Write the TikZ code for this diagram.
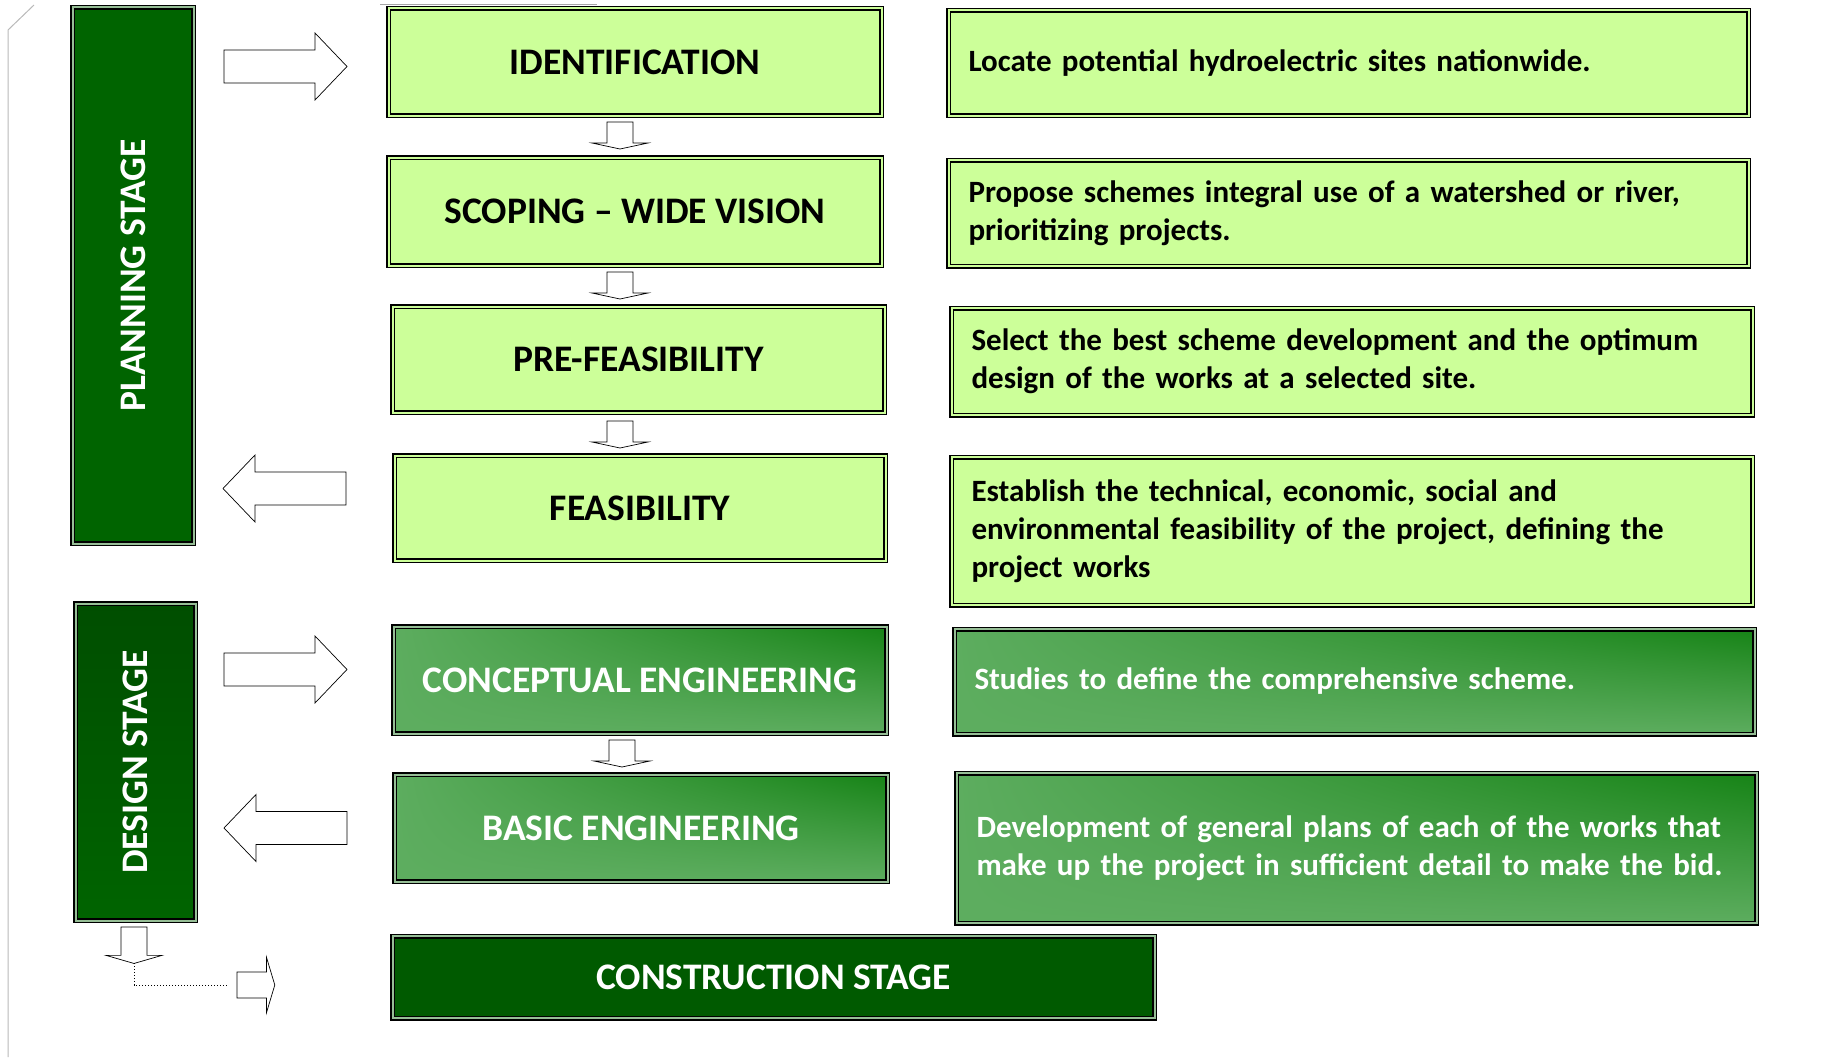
\documentclass[tikz,border=0pt]{standalone}
\usepackage{fontspec}
\setmainfont{Carlito}
\usetikzlibrary{positioning,shadings}
\definecolor{paleg}{HTML}{CCFF99}
\definecolor{deepg}{HTML}{006400}
\definecolor{shadeg}{HTML}{004E00}
\definecolor{constg}{HTML}{005A00}
\definecolor{midg}{HTML}{5DAD5F}
\definecolor{richg}{HTML}{168316}
\definecolor{gapg}{HTML}{96BE96}

\begin{document}
\begin{tikzpicture}[x=1pt,y=-1pt,
	frame/.style={draw,line width=1.5pt,double distance=2pt,inner sep=0pt},
	bigfont/.style={font=\fontsize{37.5}{45}\selectfont\bfseries},
	smallfont/.style={font=\fontsize{31}{38}\selectfont\bfseries},
	titlebox/.style={frame,fill=paleg,double=paleg,bigfont},
	descbox/.style={frame,fill=paleg,double=paleg,align=left,inner xsep=20pt,smallfont},
	engbox/.style={frame,double=gapg,text=white,upper left=midg,lower left=midg,lower right=midg,upper right=richg},
	stagebar/.style={frame,double=gapg,rotate=90,text=white,bigfont},
	pics/bigarrow/.style={code={
		\draw[fill=white,line width=0.7pt] (0,-16.5) -- (91,-16.5) -- (91,-33.5) -- (123,0) -- (91,33.5) -- (91,16.5) -- (0,16.5) -- cycle;
		\coordinate (-tip) at (123,0);}},
	pics/smallarrow/.style={code={
		\draw[fill=white,line width=0.7pt] (0,-13) -- (21,-13) -- (21,-28) -- (27,0) -- (21,28) -- (21,13) -- (0,13) -- cycle;
		\coordinate (-tail) at (0,0);
		\coordinate (-tip) at (27,0);}}]
	\useasboundingbox (0,0) rectangle (1822,1057);
	% page edge
	\draw[gray!55,line width=1pt] (34,5) -- (8,30) -- (8,1057);
	\draw[gray!70,line width=0.6pt] (380,4.5) -- (597,4.5);
	% stage columns
	\draw (133,275.5) node[stagebar,fill=deepg,minimum width=536pt,minimum height=121pt](plan){PLANNING STAGE};
	\draw (135.5,762) node[stagebar,top color=shadeg,bottom color=deepg,minimum width=317pt,minimum height=120pt](design){DESIGN STAGE};
	% steps
	\draw (635,62) node[titlebox,minimum width=493pt,minimum height=107pt](ident){IDENTIFICATION};
	\draw (635,211.5) node[titlebox,minimum width=493pt,minimum height=108pt](scope){SCOPING -- WIDE VISION};
	\draw (638.5,359.5) node[titlebox,minimum width=492pt,minimum height=106pt](prefeas){PRE-FEASIBILITY};
	\draw (640,508) node[titlebox,minimum width=491pt,minimum height=105pt](feas){FEASIBILITY};
	\draw (640,680) node[engbox,bigfont,minimum width=493pt,minimum height=107pt](concept){CONCEPTUAL ENGINEERING};
	\draw (641,828) node[engbox,bigfont,minimum width=493pt,minimum height=107pt](basic){BASIC ENGINEERING};
	\draw (773.5,977) node[frame,fill=constg,double=gapg,text=white,bigfont,minimum width=762pt,minimum height=82pt](constr){CONSTRUCTION STAGE};
	% descriptions
	\draw (1348.5,63) node[descbox,text width=760pt,minimum height=105pt](identtxt){Locate potential hydroelectric sites nationwide.};
	\draw (1348.5,213) node[descbox,text width=760pt,minimum height=106pt](scopetxt){Propose schemes integral use of a watershed or river,\\prioritizing projects.};
	\draw (1352,361.5) node[descbox,text width=761pt,minimum height=107pt](prefeastxt){Select the best scheme development and the optimum\\design of the works at a selected site.};
	\draw (1352,531) node[descbox,text width=761pt,minimum height=148pt](feastxt){Establish the technical, economic, social and\\environmental feasibility of the project, defining the\\project works};
	\draw (1354.5,681.5) node[engbox,align=left,inner xsep=20pt,smallfont,text width=760pt,minimum height=105pt](concepttxt){Studies to define the comprehensive scheme.};
	\draw (1356.5,848) node[engbox,align=left,inner xsep=20pt,smallfont,text width=760pt,minimum height=150pt](basictxt){Development of general plans of each of the works that\\make up the project in sufficient detail to make the bid.};
	% block arrows
	\pic (inplan) at (224,66.5) {bigarrow};
	\pic[rotate=180] (outplan) at (346,488.5) {bigarrow};
	\pic (indesign) at (224,669.5) {bigarrow};
	\pic[rotate=180] (outdesign) at (347,828) {bigarrow};
	\pic[rotate=-90] (d1) at (620,122) {smallarrow};
	\pic[rotate=-90] (d2) at (620,272) {smallarrow};
	\pic[rotate=-90] (d3) at (620,421) {smallarrow};
	\pic[rotate=-90] (d4) at (622,740) {smallarrow};
	\pic[rotate=-90,xscale=1.35] (dnarr) at (134,927) {smallarrow};
	\pic[xscale=1.4] (rtarr) at (237,985) {smallarrow};
	\draw[dotted,line width=1pt,shorten >=9pt] (dnarr-tip) |- (rtarr-tail);
\end{tikzpicture}
\end{document}
